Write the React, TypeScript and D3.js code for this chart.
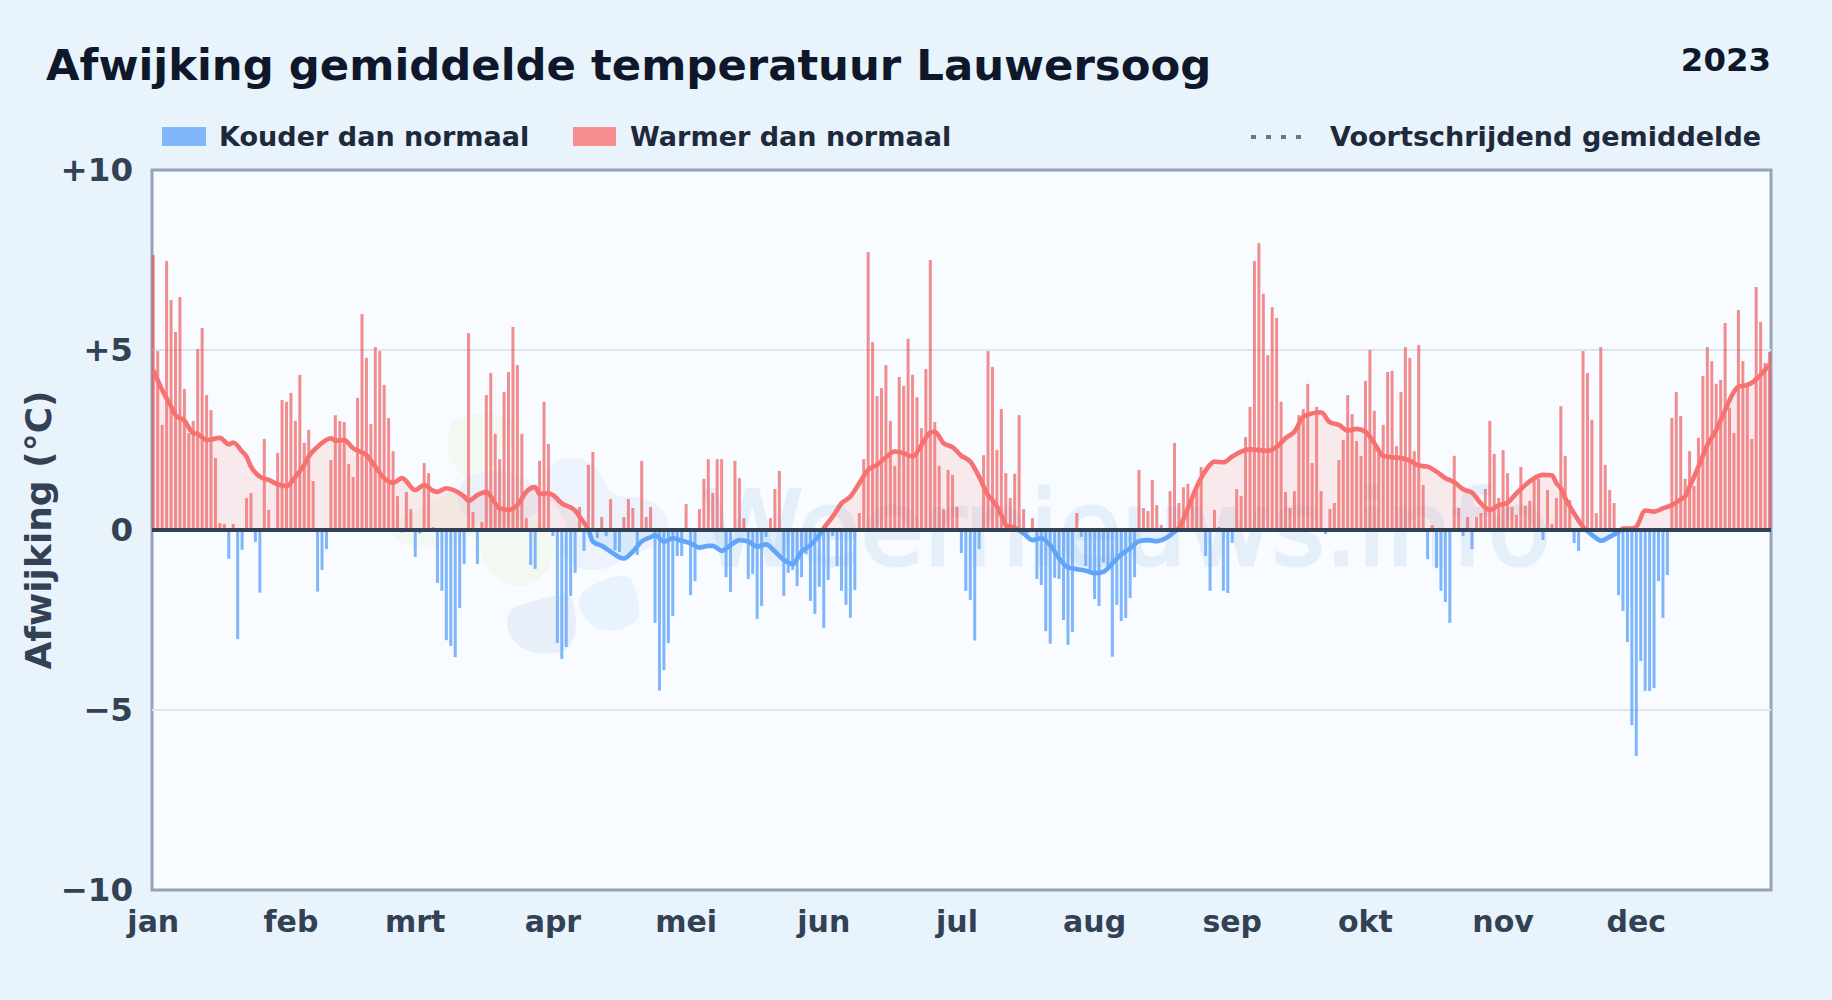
import { useMemo } from 'react';
import * as d3 from 'd3';

const TITLE = 'Afwijking gemiddelde temperatuur Lauwersoog';
const YEAR = '2023';
const Y_LABEL = 'Afwijking (°C)';
const WATERMARK = 'Weernieuws.info';

const monthNames = ['jan', 'feb', 'mrt', 'apr', 'mei', 'jun', 'jul', 'aug', 'sep', 'okt', 'nov', 'dec'];
const monthStarts = [0, 31, 59, 90, 120, 151, 181, 212, 243, 273, 304, 334];
const yTicks = [10, 5, 0, -5, -10];

// daily anomaly
const dailyAnomaly = [
  7.64, 4.97, 2.92, 7.47, 6.39, 5.5, 6.47, 3.92, 2.69, 3.03,
  5.03, 5.61, 3.75, 3.33, 2.0, 0.19, 0.17, -0.8, 0.17, -3.03,
  -0.55, 0.89, 1.03, -0.33, -1.74, 2.53, 0.56, 0, 2.14, 3.61,
  3.56, 3.81, 3.03, 4.31, 2.42, 2.78, 1.36, -1.71, -1.11, -0.53,
  1.94, 3.19, 3.03, 3.0, 1.83, 1.47, 3.67, 6.0, 4.78, 2.94,
  5.08, 4.97, 4.03, 3.11, 2.19, 0.94, -0.07, 1.06, 0.58, -0.75,
  -0.1, 1.86, 1.58, 0.08, -1.47, -1.69, -3.06, -3.22, -3.53, -2.17,
  -0.94, 5.47, 0.5, -0.94, 0.22, 3.75, 4.36, 2.67, 1.97, 3.83,
  4.39, 5.64, 4.58, 2.67, 0.33, -0.97, -1.08, 1.92, 3.56, 2.39,
  -0.17, -3.14, -3.58, -3.25, -1.83, -1.19, 0.64, -0.58, 1.81, 2.17,
  -0.22, 0.36, -0.17, 0.86, -0.56, -0.61, 0.36, 0.86, 0.61, -0.69,
  1.92, 0.36, 0.64, -2.58, -4.46, -3.89, -3.14, -2.39, -0.72, -0.72,
  0.72, -1.81, -1.42, 0.58, 1.42, 1.97, 1.03, 1.97, 1.97, -1.31,
  -1.72, 1.92, 1.44, 0.33, -1.36, -1.22, -2.47, -2.11, -0.19, 0.33,
  1.14, 1.64, -1.83, -1.19, -1.11, -1.56, -1.31, -0.67, -1.97, -2.33,
  -1.58, -2.72, -1.39, -0.17, -1.0, -1.69, -2.08, -2.44, -1.67, 0.47,
  1.97, 7.72, 5.22, 3.72, 3.94, 4.58, 3.03, 1.78, 4.25, 4.0,
  5.31, 4.31, 3.69, 2.83, 4.47, 7.5, 3.0, 1.78, 0.58, 1.67,
  1.53, 0.64, -0.64, -1.69, -1.94, -3.07, -0.53, 2.08, 4.97, 4.53,
  2.22, 3.36, 1.58, 0.89, 1.56, 3.19, 0.58, -0.08, 0.33, -1.36,
  -1.53, -2.81, -3.16, -1.33, -1.36, -2.5, -3.19, -2.83, 0.47, -0.19,
  -1.0, -1.15, -1.92, -2.11, -0.9, -1.0, -3.52, -2.08, -2.53, -2.44,
  -1.89, -1.31, 1.67, 0.61, 0.53, 1.39, 0.69, 0.14, 0, 1.08,
  2.42, 0.75, 1.19, 1.28, 0.83, 1.1, 1.75, -0.72, -1.69, 0.56,
  0.08, -1.69, -1.75, -0.36, 1.14, 0.94, 2.58, 3.42, 7.47, 7.97,
  6.56, 4.86, 6.19, 5.89, 3.56, 1.06, 0.61, 1.08, 3.19, 3.36,
  4.06, 1.86, 3.42, 1.08, -0.11, 0.58, 0.75, 1.94, 2.5, 3.75,
  3.22, 2.47, 2.06, 4.14, 5.0, 3.31, 2.22, 2.92, 4.39, 4.42,
  2.33, 3.83, 5.08, 4.78, 2.19, 5.14, 1.25, -0.81, 0.14, -1.06,
  -1.69, -2.0, -2.58, 2.06, 0.61, -0.17, 0.36, -0.53, 0.36, 0.47,
  1.14, 3.03, 2.11, 0.89, 2.22, 1.58, 0.64, 0.42, 1.75, 0.67,
  0.81, 1.39, 1.42, -0.28, 1.11, 0.17, 0.89, 3.44, 2.06, 0.83,
  -0.36, -0.58, 4.97, 4.36, 3.06, 0.47, 5.08, 1.81, 1.11, 0.75,
  -1.81, -2.25, -3.11, -5.42, -6.28, -3.64, -4.47, -4.47, -4.39, -1.42,
  -2.44, -1.25, 3.11, 3.83, 3.17, 1.42, 2.19, 1.22, 2.56, 4.28,
  5.08, 4.69, 4.06, 4.17, 5.75, 3.4, 2.69, 6.11, 4.69, 4.03,
  2.53, 6.75, 5.78, 4.64, 4.94,
];

// moving average, read at its bends
const trendDays = [
  0, 2, 4, 5, 7, 9, 10, 12, 15, 17, 18, 20, 21, 22, 24, 26, 28, 30, 32, 34, 35, 37, 40, 41, 43, 45, 48, 50, 52, 54,
  56, 59, 61, 63, 64, 66, 68, 70, 71, 73, 75, 77, 78, 80, 82, 84, 86, 87, 89, 90, 92, 95, 96, 98, 99, 101, 103, 105,
  106, 108, 110, 112, 113, 115, 117, 119, 121, 123, 125, 126, 128, 130, 132, 134, 136, 138, 140, 142, 144, 146, 148,
  150, 151, 153, 155, 157, 159, 161, 163, 165, 167, 169, 171, 173, 175, 176, 178, 180, 182, 184, 186, 188, 189, 191,
  192, 194, 196, 198, 200, 202, 204, 206, 208, 210, 212, 214, 216, 218, 220, 222, 224, 226, 228, 230, 231, 233, 235,
  237, 239, 241, 243, 245, 247, 249, 251, 253, 255, 257, 259, 261, 263, 265, 267, 269, 271, 273, 275, 277, 279, 281,
  283, 285, 287, 289, 291, 293, 295, 297, 299, 301, 303, 305, 307, 309, 311, 313, 315, 316, 317, 318, 320, 322, 323,
  325, 326, 328, 330, 331, 333, 334, 336, 338, 340, 342, 344, 345, 346, 348, 350, 352, 354, 356, 357, 359, 360, 362, 364,
];
const trendValues = [
  4.44, 3.89, 3.43, 3.19, 3.04, 2.69, 2.67, 2.5, 2.56, 2.38, 2.43, 2.18, 2.04, 1.76, 1.48, 1.39, 1.27, 1.22, 1.48, 1.81,
  2.04, 2.31, 2.55, 2.48, 2.5, 2.27, 2.08, 1.76, 1.44, 1.31, 1.44, 1.11, 1.25, 1.09, 1.06, 1.16, 1.09, 0.93, 0.81, 0.97,
  1.06, 0.74, 0.6, 0.56, 0.69, 1.06, 1.19, 1.0, 1.02, 0.97, 0.74, 0.54, 0.37, 0, -0.32, -0.44, -0.6, -0.76, -0.79, -0.6,
  -0.32, -0.2, -0.14, -0.32, -0.23, -0.3, -0.37, -0.49, -0.44, -0.44, -0.58, -0.42, -0.28, -0.32, -0.46, -0.4, -0.6,
  -0.83, -0.95, -0.6, -0.42, -0.14, 0.05, 0.37, 0.74, 0.93, 1.3, 1.67, 1.81, 2.02, 2.18, 2.13, 2.04, 2.36, 2.71, 2.73,
  2.41, 2.3, 2.06, 1.9, 1.48, 0.97, 0.83, 0.42, 0.14, 0.06, -0.09, -0.28, -0.23, -0.42, -0.79, -1.04, -1.09, -1.13, -1.2,
  -1.16, -0.93, -0.68, -0.51, -0.31, -0.28, -0.31, -0.23, -0.05, 0.06, 0.6, 1.2, 1.65, 1.9, 1.88, 2.04, 2.18, 2.24, 2.22,
  2.2, 2.31, 2.55, 2.73, 3.15, 3.24, 3.27, 2.99, 2.92, 2.76, 2.81, 2.73, 2.41, 2.06, 2.02, 2.0, 1.93, 1.79, 1.76, 1.62,
  1.44, 1.33, 1.13, 1.04, 0.74, 0.56, 0.69, 0.76, 1.02, 1.25, 1.44, 1.53, 1.52, 1.3, 1.16, 0.88, 0.46, 0.09, -0.03,
  -0.23, -0.3, -0.19, -0.05, 0.04, 0.04, 0.09, 0.54, 0.51, 0.6, 0.69, 0.85, 0.93, 1.2, 1.76, 2.36, 2.78, 3.33, 3.84, 3.98,
  4.03, 4.09, 4.31, 4.6,
];

const WIDTH = 1832;
const HEIGHT = 1000;
const FONT = '"DejaVu Sans", sans-serif';

const plot = { left: 152, right: 1771, top: 170, bottom: 890 };

export default function App() {
  const x = useMemo(() => d3.scaleLinear().domain([0, 364]).range([153.3, 1769.5]), []);
  const y = useMemo(() => d3.scaleLinear().domain([-10, 10]).range([plot.bottom, plot.top]), []);

  const trend = trendDays.map((d, i) => ({ day: d, value: trendValues[i] }));
  const linePath = d3.line<{ day: number; value: number }>()
    .x(d => x(d.day))
    .y(d => y(d.value))
    .curve(d3.curveMonotoneX)(trend) as string;
  const areaPath = d3.area<{ day: number; value: number }>()
    .x(d => x(d.day))
    .y0(y(0))
    .y1(d => y(d.value))
    .curve(d3.curveMonotoneX)(trend) as string;

  return (
    <svg
      width={WIDTH}
      height={HEIGHT}
      viewBox={`0 0 ${WIDTH} ${HEIGHT}`}
      style={{ position: 'absolute', left: 0, top: 0, display: 'block' }}
      fontFamily={FONT}
    >
      <defs>
        <clipPath id="above">
          <rect x={plot.left} y={plot.top} width={plot.right - plot.left} height={y(0) - plot.top} />
        </clipPath>
        <clipPath id="below">
          <rect x={plot.left} y={y(0)} width={plot.right - plot.left} height={plot.bottom - y(0)} />
        </clipPath>
      </defs>

      <rect width={WIDTH} height={HEIGHT} fill="#e8f3fc" />
      <rect
        x={plot.left}
        y={plot.top}
        width={plot.right - plot.left}
        height={plot.bottom - plot.top}
        fill="#f8fbff"
        stroke="#94a3b8"
        strokeWidth={3}
      />

      {/* faint logo and site name behind the data */}
      <g opacity={0.75}>
        <path
          d="M449 432C449 413 490 408 510 420C535 440 480 470 470 480C445 500 400 520 395 520C385 535 400 548 430 547C455 545 470 525 478 545C490 590 530 600 550 565C565 530 530 520 510 505C470 480 440 470 449 432Z"
          fill="#eef6ea"
          opacity={0.8}
        />
        <path
          d="M466 478C490 465 530 470 540 495C548 520 510 525 480 525C458 520 450 495 466 478Z"
          fill="#dfe9f6"
          opacity={0.7}
        />
        <path
          d="M548 470C555 455 580 455 592 465C605 478 605 495 625 497C650 495 672 510 668 530C660 550 630 552 615 565C590 575 570 570 560 550C575 530 560 510 550 500C545 490 545 480 548 470Z"
          fill="#e3effb"
          opacity={0.8}
        />
        <path
          d="M520 605C540 600 565 590 572 598C578 620 578 640 565 650C540 660 510 650 507 625C507 615 510 608 520 605Z"
          fill="#e4ecf7"
        />
        <path
          d="M585 590C600 580 625 570 632 580C636 595 642 610 638 618C628 632 605 634 592 625C580 615 574 600 585 590Z"
          fill="#e4f1fd"
        />
      </g>
      <text
        x={1126}
        y={565}
        textAnchor="middle"
        fontSize={103}
        fill="#d8e8f8"
        stroke="#d8e8f8"
        strokeWidth={3}
        opacity={0.6}
      >
        {WATERMARK}
      </text>

      {[5, -5].map(t => (
        <line key={t} x1={plot.left} x2={plot.right} y1={y(t)} y2={y(t)} stroke="#e0e5ea" strokeWidth={2} />
      ))}

      {dailyAnomaly.map((v, i) => (
        <rect
          key={i}
          x={x(i) - 1.5}
          width={3}
          y={v >= 0 ? y(v) : y(0)}
          height={Math.abs(y(v) - y(0))}
          fill={v >= 0 ? '#ef4444' : '#60a5fa'}
          opacity={v >= 0 ? 0.6 : 0.8}
        />
      ))}

      <path d={areaPath} fill="#f87171" opacity={0.13} clipPath="url(#above)" />
      <path d={areaPath} fill="#60a5fa" opacity={0.13} clipPath="url(#below)" />
      <path
        d={linePath}
        fill="none"
        stroke="#f87171"
        strokeWidth={4.6}
        strokeLinejoin="round"
        clipPath="url(#above)"
      />
      <path
        d={linePath}
        fill="none"
        stroke="#60a5fa"
        strokeWidth={4.6}
        strokeLinejoin="round"
        clipPath="url(#below)"
      />

      <line x1={plot.left} x2={plot.right} y1={y(0)} y2={y(0)} stroke="#334155" strokeWidth={4} />

      <text x={46} y={80} fontSize={43.35} fontWeight={700} fill="#0f172a">{TITLE}</text>
      <text x={1771} y={71} textAnchor="end" fontSize={32.4} fontWeight={700} fill="#0f172a">{YEAR}</text>

      <rect x={162} y={127} width={44} height={19} fill="#82b6fb" />
      <text x={219} y={146} fontSize={27.05} fontWeight={700} fill="#1e293b">Kouder dan normaal</text>
      <rect x={573} y={127} width={43} height={19} fill="#f78e8f" />
      <text x={630} y={146} fontSize={27.05} fontWeight={700} fill="#1e293b">Warmer dan normaal</text>
      <line x1={1251} x2={1310} y1={137} y2={137} stroke="#64748b" strokeWidth={4} strokeDasharray="5 10" />
      <text x={1330} y={146} fontSize={27.05} fontWeight={700} fill="#1e293b">Voortschrijdend gemiddelde</text>

      {yTicks.map(t => (
        <text
          key={t}
          x={133}
          y={y(t) + 11}
          textAnchor="end"
          fontSize={32.5}
          fontWeight={700}
          fill="#334155"
        >
          {t > 0 ? `+${t}` : t < 0 ? `−${-t}` : '0'}
        </text>
      ))}

      {monthNames.map((m, i) => (
        <text
          key={m}
          x={x(monthStarts[i])}
          y={932}
          textAnchor="middle"
          fontSize={30}
          fontWeight={700}
          fill="#334155"
        >
          {m}
        </text>
      ))}

      <text
        transform={`translate(51,530) rotate(-90)`}
        textAnchor="middle"
        fontSize={36}
        fontWeight={700}
        fill="#334155"
      >
        {Y_LABEL}
      </text>
    </svg>
  );
}
